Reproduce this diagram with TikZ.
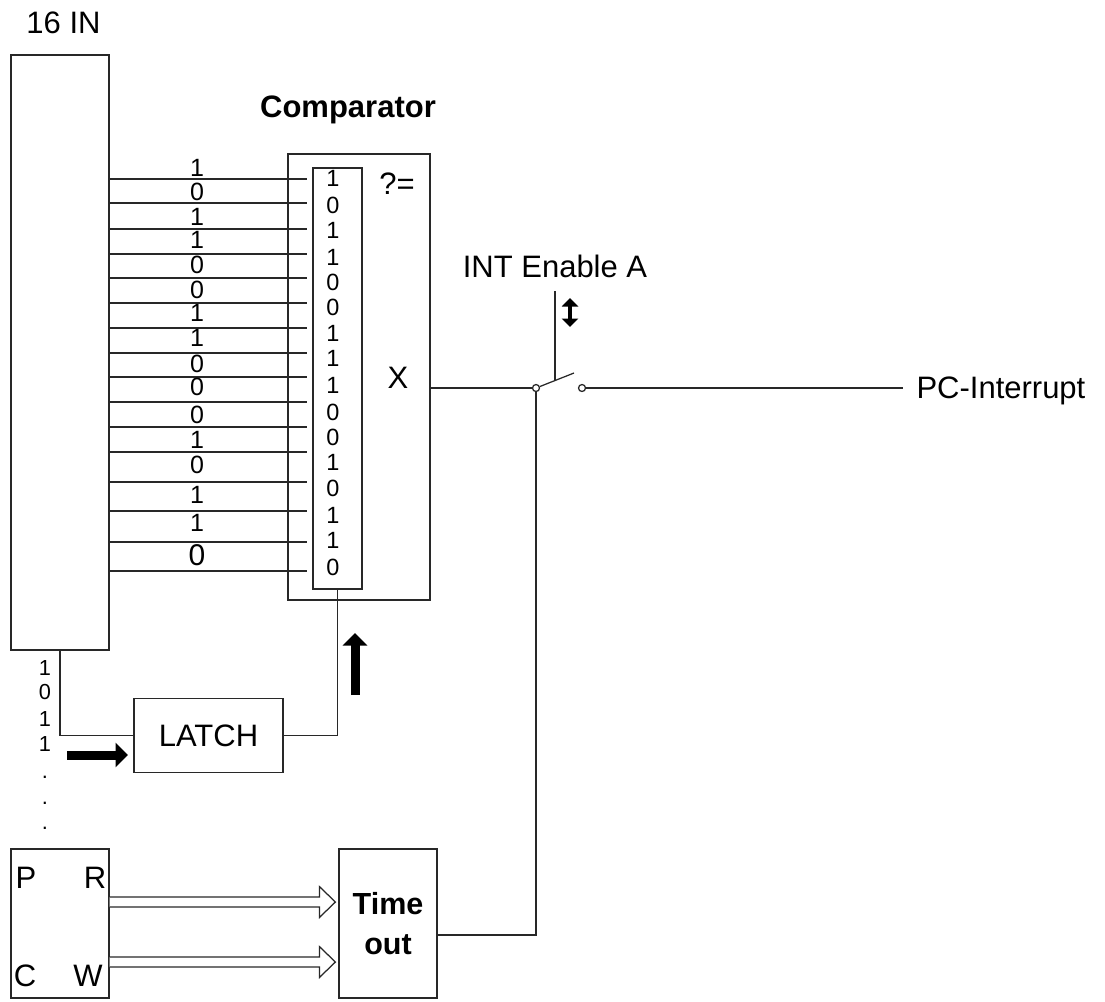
\documentclass[tikz,border=0pt]{standalone}
\usepackage{fontspec}
\setmainfont{Liberation Sans}
\usepackage{xcolor}
\definecolor{wiregray}{RGB}{40,40,40}
\usetikzlibrary{arrows.meta, calc}

\begin{document}
\begin{tikzpicture}[x=0.4pt, y=-0.4pt,
    every node/.style={inner sep=0pt, font=\fontsize{12.4}{16}\selectfont},
    blk/.style={draw=wiregray, line width=0.5pt},
    wire/.style={wiregray, line width=0.5pt},
    bit/.style={font=\fontsize{9.4}{10}\selectfont},
    wirelbl/.style={font=\fontsize{10}{11}\selectfont},
    tinybit/.style={font=\fontsize{8.7}{10}\selectfont},
    portlbl/.style={font=\fontsize{12.4}{14}\selectfont},
    pin/.style={circle, draw=wiregray, line width=0.5pt, fill=white, minimum size=2.8pt},
    bigarrow/.style={line width=3.6pt, -{Triangle[length=5pt, width=9.6pt]}},
    hollow/.style={wiregray, line width=0.5pt, fill=white, line join=miter}]

\useasboundingbox (0,0) rectangle (1105,1001);

% --- input register ---
\node[blk, minimum width=39.2pt, minimum height=238pt] (inbox) at (60,352.5) {};
\node[anchor=base] (inlbl) at (63.5,33) {16 IN};

% --- comparator ---
\node[blk, minimum width=56.8pt, minimum height=178.4pt] (comp) at (359,377) {};
\node[anchor=base, font=\fontsize{12.4}{16}\selectfont\bfseries] (complbl) at (348,117) {Comparator};
\node[blk, minimum width=19.6pt, minimum height=168.4pt] (reg) at (337.5,378.5) {};
\node (eq) at (397,183.5) {?=};
\node (xx) at (398,377.5) {X};

% 16 data lines with the pattern bits
\foreach \ly/\iy/\il [count=\i] in {179/178/1, 203/205/0, 229/230/1, 254/257/1, 278/282/0,
    303/307/0, 328/333/1, 353/358/1, 377/385/1, 402/412/0, 427/437/0, 452/462/1,
    482/488/0, 511/515/1, 542/540/1, 571/567/0}{
  \draw[wire] (inbox.east |- 0,\ly) -- ($(reg.west |- 0,\ly)+(-5,0)$);
  \node[bit] (b\i) at (333,\iy) {\il};
}
\foreach \ty/\tl [count=\i] in {168/1, 192/0, 217/1, 240/1, 265/0, 290/0, 313/1, 338/1,
    364/0, 387/0, 415/0, 440/1, 465/0, 495/1, 523/1}{
  \node[wirelbl] (w\i) at (197,\ty) {\tl};
}
\node[font=\fontsize{12}{14}\selectfont] (w16) at (197,555) {0};

% --- latch ---
\node[blk, minimum width=59.6pt, minimum height=29.6pt] (latch) at (208.5,735.5) {LATCH};
\draw[wire] (inbox.south) |- (latch.west);
\draw[wire] (latch.east) -| (reg.south);
\draw[bigarrow] (355,695) -- (355,633);
\draw[bigarrow] (67,755) -- (128,755);

% serial bits
\node[tinybit] (s1) at (45,668) {1};
\node[tinybit] (s2) at (45,692) {0};
\node[tinybit] (s3) at (45,719) {1};
\node[tinybit] (s4) at (45,744) {1};
\node[tinybit] (s5) at (45,777) {.};
\node[tinybit] (s6) at (45,803) {.};
\node[tinybit] (s7) at (45,828) {.};

% --- interrupt switch ---
\node[pin] (piv) at (536,388) {};
\node[pin] (term) at (582,388) {};
\coordinate (lev) at (574,373);
\coordinate (act) at (555,291);
\coordinate (actend) at (555,380);
\draw[wire] (comp.east |- piv) -- (piv.west);
\draw[wire] (piv.21) -- (lev);
\draw[wire] (act) -- (actend);
\draw[line width=1.6pt, {Triangle[length=3.4pt, width=6.4pt]}-{Triangle[length=3.4pt, width=6.4pt]}] (570,298) -- (570,327);
\node[anchor=base] (intlbl) at (555,277) {INT Enable A};
\node[anchor=base west] (pcint) at (916,398) {PC-Interrupt};
\draw[wire] (term.east) -- ($(term -| pcint.west)+(-13,0)$);

% --- PC status and timeout ---
\node[blk, minimum width=39.2pt, minimum height=59.6pt] (pcw) at (60,923.5) {};
\node[portlbl] (pp) at (26,878) {P};
\node[portlbl] (rr) at (95,878) {R};
\node[portlbl] (cc) at (25,976) {C};
\node[portlbl] (ww) at (88,976) {W};

\node[blk, minimum width=39.2pt, minimum height=59.6pt, align=center,
      font=\fontsize{12.2}{16}\selectfont\bfseries] (tmo) at (388,923.5) {Time\\out};

\coordinate (rd) at ([yshift=8.6pt]pcw.east);
\coordinate (rdt) at ([xshift=-1.2pt, yshift=8.6pt]tmo.west);
\coordinate (wd) at ([yshift=-15.4pt]pcw.east);
\coordinate (wdt) at ([xshift=-1.2pt, yshift=-15.4pt]tmo.west);
\draw[hollow] ($(rd)+(0,-5)$) -- ($(rdt)+(-16,-5)$) -- ($(rdt)+(-16,-15.5)$) -- (rdt)
  -- ($(rdt)+(-16,15.5)$) -- ($(rdt)+(-16,5)$) -- ($(rd)+(0,5)$);
\draw[hollow] ($(wd)+(0,-5)$) -- ($(wdt)+(-16,-5)$) -- ($(wdt)+(-16,-15.5)$) -- (wdt)
  -- ($(wdt)+(-16,15.5)$) -- ($(wdt)+(-16,5)$) -- ($(wd)+(0,5)$);

\coordinate (tmoin) at ($(tmo.east)+(0,11.5)$);
\draw[wire] (piv.south) |- (tmoin);

\end{tikzpicture}
\end{document}
